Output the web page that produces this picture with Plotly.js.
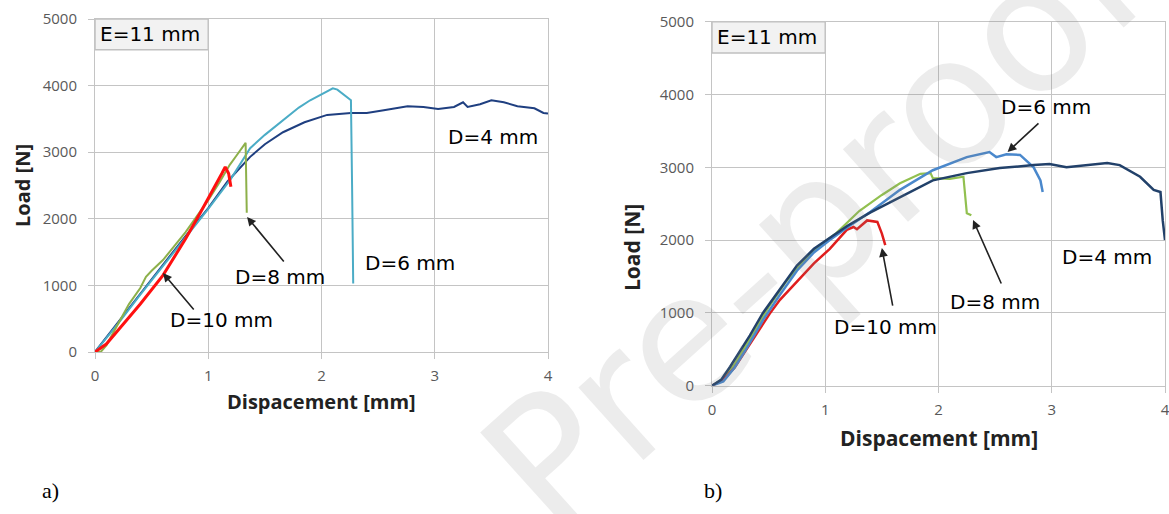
<!DOCTYPE html>
<html>
<head>
<meta charset="utf-8">
<script src="https://cdn.plot.ly/plotly-3.0.1.min.js"></script>
<style>html,body{margin:0;padding:0;background:#fff;}#chart{width:1169px;height:514px;}</style>
</head>
<body>
<div id="chart"></div>
<script>
// ---------- Panel a) data ----------
const aD4x = [0,0.2,0.4,0.6,0.8,1.0,1.17,1.37,1.5,1.66,1.85,2.05,2.26,2.4,2.55,2.7,2.76,2.9,3.03,3.17,3.25,3.29,3.4,3.5,3.61,3.73,3.88,3.96,4.0];
const aD4y = [0,440,880,1310,1740,2160,2560,2930,3120,3300,3450,3560,3590,3590,3630,3680,3690,3680,3650,3680,3750,3680,3720,3780,3750,3690,3660,3590,3580];
const aD6x = [0,0.2,0.4,0.6,0.8,1.0,1.2,1.37,1.5,1.66,1.8,1.9,2.0,2.1,2.14,2.26,2.27,2.28];
const aD6y = [0,420,860,1290,1730,2150,2600,3060,3260,3480,3670,3780,3870,3960,3940,3780,2500,1030];
const aD8x = [0,0.05,0.1,0.2,0.3,0.4,0.45,0.5,0.6,0.8,1.0,1.1,1.19,1.25,1.33,1.34];
const aD8y = [0,0,100,400,720,960,1130,1220,1380,1800,2280,2550,2810,2950,3140,2090];
const aD10x = [0,0.1,0.2,0.4,0.6,0.8,0.93,1.05,1.12,1.15,1.18,1.2];
const aD10y = [0,120,320,720,1150,1700,2090,2450,2680,2780,2680,2480];

// ---------- Panel b) data ----------
const bD4x = [0,0.08,0.16,0.25,0.335,0.45,0.6,0.75,0.9,1.04,1.2,1.4,1.66,1.95,2.25,2.54,2.84,2.98,3.13,3.31,3.49,3.6,3.78,3.9,3.96,3.98,4.0];
const bD4y = [0,80,260,480,690,1000,1330,1650,1880,2030,2200,2380,2590,2820,2920,2990,3030,3045,3000,3030,3060,3030,2870,2690,2660,2270,2000];
const bD6x = [0,0.1,0.2,0.3,0.45,0.6,0.75,0.9,1.04,1.2,1.4,1.66,1.95,2.25,2.45,2.51,2.6,2.72,2.84,2.9,2.92];
const bD6y = [0,60,250,500,900,1250,1580,1830,2000,2180,2390,2690,2960,3140,3210,3140,3180,3170,3000,2820,2660];
const bD8x = [0,0.1,0.2,0.35,0.5,0.65,0.8,0.95,1.1,1.3,1.5,1.66,1.84,1.93,1.95,2.1,2.22,2.25,2.29];
const bD8y = [0,100,300,680,1080,1420,1700,1920,2100,2400,2620,2780,2910,2920,2850,2840,2870,2370,2340];
const bD10x = [0,0.1,0.2,0.35,0.51,0.6,0.75,0.9,1.04,1.19,1.25,1.28,1.37,1.46,1.5,1.53];
const bD10y = [0,80,250,600,990,1180,1430,1680,1880,2140,2180,2150,2270,2250,2090,1930];

// ---------- Tick labels ----------
const xTicks = [0,1,2,3,4];
const xTickText = ['0','1','2','3','4'];
const yTicks = [0,1000,2000,3000,4000,5000];
const yTickText = ['0','1000','2000','3000','4000','5000'];

const grid = '#c4c4c4';
function tr(x,y,color,w,xa,ya){
  return {x:x,y:y,type:'scatter',mode:'lines',line:{color:color,width:w},xaxis:xa,yaxis:ya,hoverinfo:'skip'};
}
const data = [
  tr(aD4x,aD4y,'#1f3f80',2,'x','y'),
  tr(aD6x,aD6y,'#4bacc6',2,'x','y'),
  tr(aD8x,aD8y,'#8db04a',2,'x','y'),
  tr(aD10x,aD10y,'#ff1010',3,'x','y'),
  tr(bD8x,bD8y,'#92c050',2.2,'x2','y2'),
  tr(bD10x,bD10y,'#e01e1e',2.5,'x2','y2'),
  tr(bD6x,bD6y,'#4a88cc',2.5,'x2','y2'),
  tr(bD4x,bD4y,'#22416a',2.5,'x2','y2')
];

function xaxis(dom){
  return {domain:dom,range:[0,4],autorange:false,tickvals:xTicks,ticktext:xTickText,
    showgrid:true,gridcolor:grid,gridwidth:1,zeroline:false,showline:true,mirror:true,linecolor:grid,linewidth:1,
    ticks:'outside',ticklen:6,tickcolor:grid,tickfont:{family:'Open Sans',size:15,color:'#595959'},ticklabelstandoff:4,
    ticklabeloverflow:'allow',fixedrange:true};
}
function yaxis(dom,anchor){
  return {domain:dom,anchor:anchor,range:[0,5000],autorange:false,tickvals:yTicks,ticktext:yTickText,
    showgrid:true,gridcolor:grid,gridwidth:1,zeroline:false,showline:true,mirror:true,linecolor:grid,linewidth:1,
    ticks:'outside',ticklen:6,tickcolor:grid,tickfont:{family:'Open Sans',size:15,color:'#595959'},ticklabelstandoff:8,fixedrange:true};
}
const W=1169,H=514;
const xa = xaxis([95/W,548/W]); xa.anchor='y';
const xb = xaxis([712/W,1165/W]); xb.anchor='y2';
const ya = yaxis([(H-352)/H,(H-19)/H],'x');
const yb = yaxis([(H-385.7)/H,(H-21.7)/H],'x2');

const lbl = {family:'DejaVu Sans',size:20,color:'#000'};
const ttl = {family:'Open Sans',size:20,color:'#222',weight:'bold'};
function txt(x,y,t,xr,yr,f){return {x:x,y:y,xref:xr,yref:yr,text:t,showarrow:false,xanchor:'center',yanchor:'middle',font:f||lbl};}
function ptxt(px,py,t,f,ang){return {x:px/W,y:1-py/H,xref:'paper',yref:'paper',text:t,showarrow:false,xanchor:'center',yanchor:'middle',textangle:ang||0,font:f};}
function arr(hx,hy,tx,ty,xr,yr){return {x:hx,y:hy,ax:tx,ay:ty,xref:xr,yref:yr,axref:xr,ayref:yr,text:'',showarrow:true,arrowhead:2,arrowsize:1.1,arrowwidth:1.6,arrowcolor:'#222',standoff:0};}

const annotations = [
  // watermark (drawn first, lightly)
  ptxt(815,222,'Pre-proof',{family:'DejaVu Sans',size:178,color:'rgba(130,130,130,0.15)'},-42),
  // panel a
  {x:0.03,y:4770,xref:'x',yref:'y',xanchor:'left',yanchor:'middle',text:'E=11 mm',showarrow:false,font:lbl},
  txt(1.12,480,'D=10 mm','x','y'),
  arr(0.60,1186,0.883,616,'x','y'),
  txt(1.634,1126,'D=8 mm','x','y'),
  arr(1.343,2027,1.678,1336,'x','y'),
  txt(2.78,1336,'D=6 mm','x','y'),
  txt(3.515,3228,'D=4 mm','x','y'),
  // panel b
  {x:0.03,y:4790,xref:'x2',yref:'y2',xanchor:'left',yanchor:'middle',text:'E=11 mm',showarrow:false,font:lbl},
  txt(2.95,3830,'D=6 mm','x2','y2'),
  arr(2.61,3210,2.896,3623,'x2','y2'),
  txt(1.536,806,'D=10 mm','x2','y2'),
  arr(1.50,1892,1.598,1080,'x2','y2'),
  txt(2.50,1146,'D=8 mm','x2','y2'),
  arr(2.305,2277,2.56,1383,'x2','y2'),
  txt(3.49,1765,'D=4 mm','x2','y2'),
  // axis titles
  ptxt(321,401,'Dispacement [mm]',ttl),
  ptxt(939,438,'Dispacement [mm]',{family:'Open Sans',size:21,color:'#222',weight:'bold'}),
  ptxt(22,186,'Load [N]',ttl,-90),
  ptxt(632,248,'Load [N]',{family:'Open Sans',size:21,color:'#222',weight:'bold'},-90),
  // panel letters
  ptxt(50,490,'a)',{family:'Liberation Serif',size:22,color:'#000'}),
  ptxt(713,490,'b)',{family:'Liberation Serif',size:22,color:'#000'})
];

const shapes = [
  {type:'rect',xref:'x',yref:'y',x0:0,x1:1,y0:4540,y1:5000,fillcolor:'#f2f2f2',line:{color:'#c0c0c0',width:1.5},layer:'below'},
  {type:'rect',xref:'x2',yref:'y2',x0:0,x1:1,y0:4570,y1:5000,fillcolor:'#f2f2f2',line:{color:'#c0c0c0',width:1.5},layer:'below'}
];

const layout = {
  width:W,height:H,margin:{l:0,r:0,t:0,b:0},paper_bgcolor:'#fff',plot_bgcolor:'#fff',
  showlegend:false,xaxis:xa,yaxis:ya,xaxis2:xb,yaxis2:yb,annotations:annotations,shapes:shapes
};
Plotly.newPlot('chart',data,layout,{displayModeBar:false,staticPlot:true});
</script>
</body>
</html>
